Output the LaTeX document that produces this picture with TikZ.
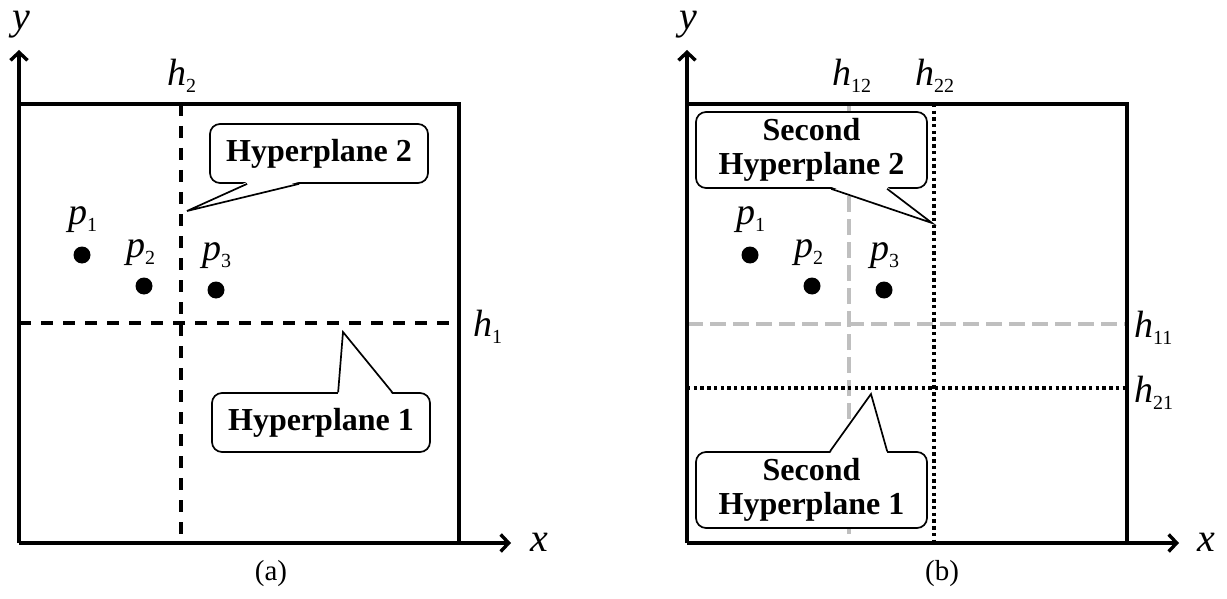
\documentclass[tikz,border=0pt]{standalone}
\usepackage{fontspec}
\setmainfont{Liberation Serif}
\usetikzlibrary{positioning, arrows.meta, calc}

\newcommand\hlbl[2]{\textit{#1}\raisebox{-7pt}{\fontsize{20}{20}\selectfont #2}}

\begin{document}
\begin{tikzpicture}[
        x = 1pt, y = -1pt,
        axis/.style = {line width=3.4pt, -{Straight Barb[length=8pt, width=17pt]}},
        frame/.style = {line width=3.4pt},
        cut/.style = {line width=3.4pt, dash pattern=on 12pt off 10pt},
        oldcut/.style = {line width=3.4pt, black!25, dash pattern=on 16pt off 7pt},
        newcut/.style = {line width=3.6pt, dash pattern=on 3.4pt off 3.3pt},
        dot/.style = {circle, fill, inner sep=0pt, minimum size=17pt},
        lbl/.style = {inner sep=0pt, anchor=base west, font=\fontsize{38}{38}\selectfont},
        axlbl/.style = {inner sep=0pt, anchor=base west, font=\fontsize{40}{40}\selectfont\itshape},
        bubble/.style = {draw, fill=white, rounded corners=10pt, line width=1.7pt, align=center, inner sep=0pt, font=\fontsize{32}{34}\selectfont\bfseries},
        tail/.style = {line width=1.7pt, line join=miter},
        capt/.style = {font=\fontsize{29}{29}\selectfont}
      ]
      \useasboundingbox (0,0) rectangle (1227,599);

      % ================= PANEL (a) =================
      \coordinate (oa) at (19,543);
      \coordinate (ya) at (19,50);
      \coordinate (xa) at (511,543);
      \coordinate (tla) at (19,104);
      \coordinate (tra) at (459,104);
      \coordinate (bra) at (459,543);

      % hyperplanes
      \draw[cut] (19,323) -- (459,323);
      \draw[cut] (181,104) -- (181,543);

      % frame and axes
      \draw[frame] (tla) -- (tra) -- (bra);
      \draw[axis] (oa) -- (ya);
      \draw[axis] (oa) -- (xa);
      \node[axlbl] (ylbla) at (12,30) {y};
      \node[axlbl] (xlbla) at (530,551) {x};
      \node[lbl] (h2a) at (167,86) {\hlbl{h}{2}};
      \node[lbl] (h1a) at (473,336) {\hlbl{h}{1}};

      % points
      \node[dot] (p1a) at (82,255) {};
      \node[dot] (p2a) at (144,286) {};
      \node[dot] (p3a) at (216,290) {};
      \node[lbl] (p1la) at (68,225) {\hlbl{p}{1}};
      \node[lbl] (p2la) at (126,257) {\hlbl{p}{2}};
      \node[lbl] (p3la) at (202,260) {\hlbl{p}{3}};

      % callouts
      \node[bubble, minimum width=218pt, minimum height=59pt] (hp2a) at (319,153.5) {Hyperplane 2};
      \coordinate (hp2tip) at (187,211);
      \fill[white] ($(hp2a.south west)+(38,-2)$) -- (hp2tip) -- ($(hp2a.south west)+(90,-2)$) -- cycle;
      \draw[tail] ($(hp2a.south west)+(38,0)$) -- (hp2tip) -- ($(hp2a.south west)+(90,0)$);

      \node[bubble, minimum width=218pt, minimum height=59pt] (hp1a) at (321,422.5) {Hyperplane 1};
      \coordinate (hp1tip) at (343,332);
      \fill[white] ($(hp1a.north west)+(127,2)$) -- (hp1tip) -- ($(hp1a.north west)+(181,2)$) -- cycle;
      \draw[tail] ($(hp1a.north west)+(127,0)$) -- (hp1tip) -- ($(hp1a.north west)+(181,0)$);

      \node[capt] (capa) at (271,574) {(a)};

      % ================= PANEL (b) =================
      \coordinate (ob) at (687,543);
      \coordinate (yb) at (687,50);
      \coordinate (xb) at (1179,543);
      \coordinate (tlb) at (687,104);
      \coordinate (trb) at (1127,104);
      \coordinate (brb) at (1127,543);

      % first hyperplanes (grey) and second hyperplanes (dotted)
      \draw[oldcut] (687,324) -- (1127,324);
      \draw[oldcut] (849,104) -- (849,543);
      \draw[newcut] (687,388) -- (1127,388);
      \draw[newcut] (934,104) -- (934,543);

      % frame and axes
      \draw[frame] (tlb) -- (trb) -- (brb);
      \draw[axis] (ob) -- (yb);
      \draw[axis] (ob) -- (xb);
      \node[axlbl] (ylblb) at (679,30) {y};
      \node[axlbl] (xlblb) at (1197,551) {x};
      \node[lbl] (h12b) at (832,86) {\hlbl{h}{12}};
      \node[lbl] (h22b) at (915,86) {\hlbl{h}{22}};
      \node[lbl] (h11b) at (1134,337) {\hlbl{h}{11}};
      \node[lbl] (h21b) at (1134,402) {\hlbl{h}{21}};

      % points
      \node[dot] (p1b) at (750,255) {};
      \node[dot] (p2b) at (812,286) {};
      \node[dot] (p3b) at (884,290) {};
      \node[lbl] (p1lb) at (736,225) {\hlbl{p}{1}};
      \node[lbl] (p2lb) at (794,257) {\hlbl{p}{2}};
      \node[lbl] (p3lb) at (870,260) {\hlbl{p}{3}};

      % callouts
      \node[bubble, minimum width=231pt, minimum height=76pt] (shp2b) at (811.5,150) {Second\\Hyperplane 2};
      \coordinate (shp2tip) at (932,223);
      \fill[white] ($(shp2b.south west)+(136,-2)$) -- (shp2tip) -- ($(shp2b.south west)+(192,-2)$) -- cycle;
      \draw[tail] ($(shp2b.south west)+(136,0)$) -- (shp2tip) -- ($(shp2b.south west)+(192,0)$);

      \node[bubble, minimum width=231pt, minimum height=76pt] (shp1b) at (811.5,490) {Second\\Hyperplane 1};
      \coordinate (shp1tip) at (871,394);
      \fill[white] ($(shp1b.north west)+(135,2)$) -- (shp1tip) -- ($(shp1b.north west)+(192,2)$) -- cycle;
      \draw[tail] ($(shp1b.north west)+(135,0)$) -- (shp1tip) -- ($(shp1b.north west)+(192,0)$);

      \node[capt] (capb) at (942,574) {(b)};

    \end{tikzpicture}
\end{document}
